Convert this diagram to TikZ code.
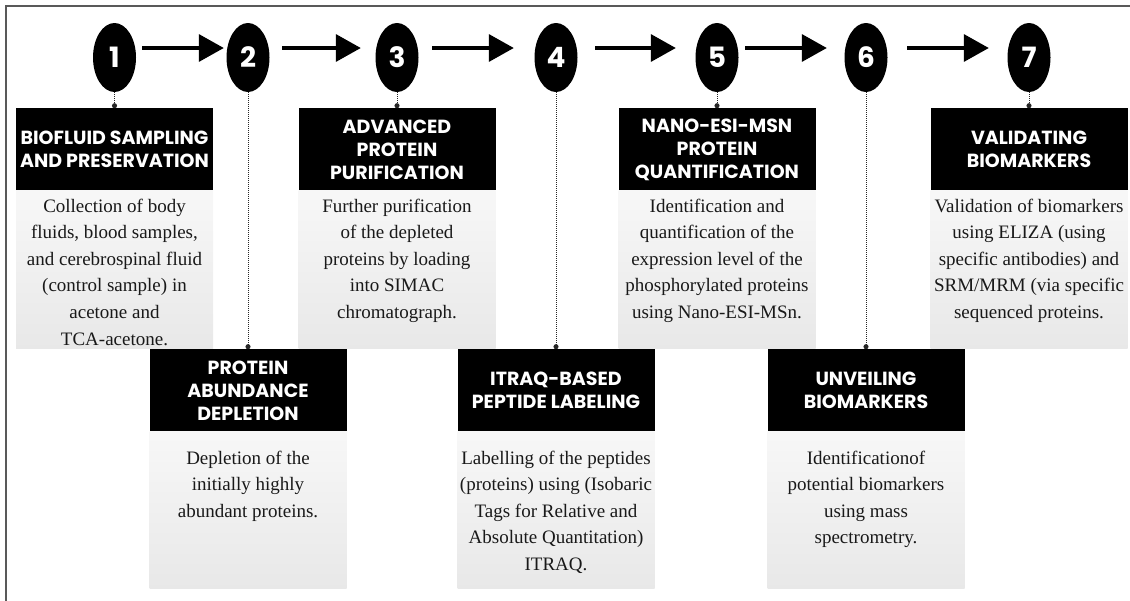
\documentclass[tikz,border=0pt]{standalone}
\usepackage{fontspec}
\setmainfont{Liberation Serif}
\setsansfont{Poppins}
\usetikzlibrary{arrows.meta,positioning,shapes.geometric}

\begin{document}
\begin{tikzpicture}[x=1pt, y=-1pt,
  stepnum/.style={ellipse, fill=black, minimum width=43pt, minimum height=69pt, inner sep=0pt,
    text=white, font=\sffamily\bfseries\fontsize{28}{28}\selectfont},
  headbox/.style={rectangle, fill=black, minimum width=197pt, minimum height=82pt, inner sep=0pt,
    text=white, align=center, font=\sffamily\bfseries\fontsize{19}{23}\selectfont},
  panel/.style={rectangle, top color=black!3, bottom color=black!9, minimum width=197pt, inner sep=0pt},
  bodytext/.style={align=center, inner sep=0pt, text=black!90, font=\fontsize{19}{26.6}\selectfont},
  flowarrow/.style={line width=3.5pt, -{Triangle[length=25pt,width=27pt]}},
  dotline/.style={densely dotted, line width=1pt, black!85, -{Circle[length=5pt]}}
]
  \useasboundingbox (0,0) rectangle (1130,600);
  \draw [black!65, line width=2pt] (6,6) rectangle (1150,620);

  % step numbers
  \node (e1) [stepnum] at (114.5,57.5) {1};
  \node (e2) [stepnum] at (248,57.5) {2};
  \node (e3) [stepnum] at (397,57.5) {3};
  \node (e4) [stepnum] at (556,57.5) {4};
  \node (e5) [stepnum] at (717,57.5) {5};
  \node (e6) [stepnum] at (866,57.5) {6};
  \node (e7) [stepnum] at (1029,57.5) {7};

  \draw [flowarrow] ([xshift=6pt,yshift=9.5pt]e1.east) -- ([xshift=-2.5pt,yshift=9.5pt]e2.west);
  \draw [flowarrow] ([xshift=12.5pt,yshift=9.5pt]e2.east) -- ([xshift=-14.5pt,yshift=9.5pt]e3.west);
  \draw [flowarrow] ([xshift=13.5pt,yshift=9.5pt]e3.east) -- ([xshift=-20.5pt,yshift=9.5pt]e4.west);
  \draw [flowarrow] ([xshift=17.5pt,yshift=9.5pt]e4.east) -- ([xshift=-19.5pt,yshift=9.5pt]e5.west);
  \draw [flowarrow] ([xshift=6.5pt,yshift=9.5pt]e5.east) -- ([xshift=-17.5pt,yshift=9.5pt]e6.west);
  \draw [flowarrow] ([xshift=19.5pt,yshift=9.5pt]e6.east) -- ([xshift=-18.5pt,yshift=9.5pt]e7.west);

  % headings
  \node (h1) [headbox, below=16pt of e1] {BIOFLUID SAMPLING\\AND PRESERVATION};
  \node (h2) [headbox, below=257pt of e2] {PROTEIN\\ABUNDANCE\\DEPLETION};
  \node (h3) [headbox, below=16pt of e3] {ADVANCED\\PROTEIN\\PURIFICATION};
  \node (h4) [headbox, below=257pt of e4] {ITRAQ-BASED\\PEPTIDE LABELING};
  \node (h5) [headbox, below=16pt of e5] {NANO-ESI-MSN\\PROTEIN\\QUANTIFICATION};
  \node (h6) [headbox, below=257pt of e6] {UNVEILING\\BIOMARKERS};
  \node (h7) [headbox, below=16pt of e7] {VALIDATING\\BIOMARKERS};

  % panels
  \node (b1) [panel, minimum height=158pt, below=0pt of h1] {};
  \node (b2) [panel, minimum height=157pt, below=0pt of h2] {};
  \node (b3) [panel, minimum height=158pt, below=0pt of h3] {};
  \node (b4) [panel, minimum height=157pt, below=0pt of h4] {};
  \node (b5) [panel, minimum height=158pt, below=0pt of h5] {};
  \node (b6) [panel, minimum height=157pt, below=0pt of h6] {};
  \node (b7) [panel, minimum height=158pt, below=0pt of h7] {};

  \node (t1) [bodytext, below=8pt of b1.north] {Collection of body\\fluids, blood samples,\\and cerebrospinal fluid\\(control sample) in\\acetone and\\TCA-acetone.};
  \node (t2) [bodytext, below=19pt of b2.north] {Depletion of the\\initially highly\\abundant proteins.};
  \node (t3) [bodytext, below=8pt of b3.north] {Further purification\\of the depleted\\proteins by loading\\into SIMAC\\chromatograph.};
  \node (t4) [bodytext, below=19pt of b4.north] {Labelling of the peptides\\(proteins) using (Isobaric\\Tags for Relative and\\Absolute Quantitation)\\ITRAQ.};
  \node (t5) [bodytext, below=8pt of b5.north] {Identification and\\quantification of the\\expression level of the\\phosphorylated proteins\\using Nano-ESI-MSn.};
  \node (t6) [bodytext, below=19pt of b6.north] {Identificationof\\potential biomarkers\\using mass\\spectrometry.};
  \node (t7) [bodytext, below=8pt of b7.north] {Validation of biomarkers\\using ELIZA (using\\specific antibodies) and\\SRM/MRM (via specific\\sequenced proteins.};

  \draw [dotline] (e1) -- (h1);
  \draw [dotline] (e2) -- (h2);
  \draw [dotline] (e3) -- (h3);
  \draw [dotline] (e4) -- (h4);
  \draw [dotline] (e5) -- (h5);
  \draw [dotline] (e6) -- (h6);
  \draw [dotline] (e7) -- (h7);
\end{tikzpicture}
\end{document}
